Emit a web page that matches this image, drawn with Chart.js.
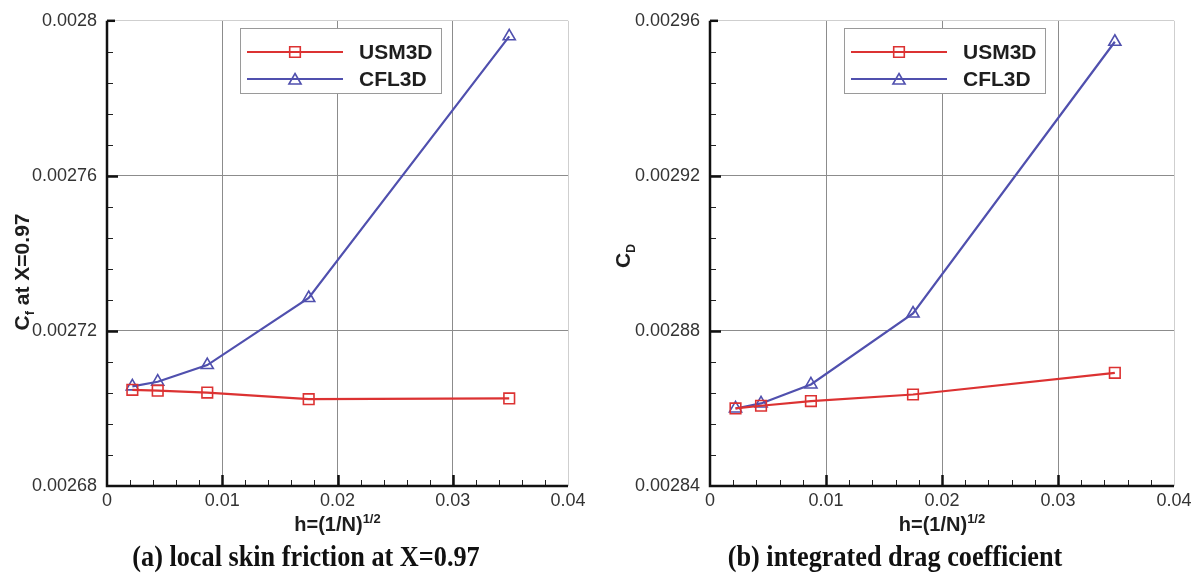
<!DOCTYPE html>
<html>
<head>
<meta charset="utf-8">
<script src="https://cdn.jsdelivr.net/npm/chart.js@4.4.1/dist/chart.umd.min.js"></script>
<style>
  html, body { margin: 0; padding: 0; background: #fff; }
  #wrap { position: relative; width: 1200px; height: 579px; overflow: hidden; }
  .panel { position: absolute; top: 0; width: 600px; height: 540px; }
  canvas { display: block; }
  .cap {
    position: absolute; top: 541px; width: 600px; text-align: center;
    font: bold 25px "Liberation Serif", "Times New Roman", serif; line-height: 30px; color: #111;
    transform: scale(1.05, 1.2); transform-origin: 50% 50%;
  }
</style>
</head>
<body>
<div id="wrap">
  <div class="panel" style="left:0"><canvas id="cfChart" width="600" height="540"></canvas></div>
  <div class="panel" style="left:600px"><canvas id="cdChart" width="600" height="540"></canvas></div>
  <div class="cap" style="left:6px">(a) local skin friction at X=0.97</div>
  <div class="cap" style="left:595px">(b) integrated drag coefficient</div>
</div>
<script>
// Grid spacing h = (1/N)^(1/2) for the five meshes
const hValues = [0.0022, 0.0044, 0.0087, 0.0175, 0.0349];

// Local skin friction at X = 0.97
const cfUSM3D = [0.0027048, 0.0027046, 0.0027041, 0.0027024, 0.0027026];
const cfCFL3D = [0.0027057, 0.0027069, 0.0027112, 0.0027285, 0.0027960];

// Integrated drag coefficient
const cdUSM3D = [0.0028600, 0.0028607, 0.0028619, 0.0028636, 0.0028692];
const cdCFL3D = [0.0028600, 0.0028613, 0.0028662, 0.0028845, 0.0029546];

// Axis ticks
const xTicks = [0, 0.01, 0.02, 0.03, 0.04];
const cfTicks = [0.00268, 0.00272, 0.00276, 0.0028];
const cdTicks = [0.00284, 0.00288, 0.00292, 0.00296];

const seriesNames = ['USM3D', 'CFL3D'];
const RED = '#dc3232';
const BLUE = '#5050ae';
const SANS = '"Liberation Sans", Arial, Helvetica, sans-serif';

function fmt(v) {
  if (Math.abs(v) < 1e-12) return '0';
  return String(Number(v.toFixed(6)));
}

// Draws a run of text pieces with individual sizes and vertical offsets, centred on x
function drawRich(ctx, parts, x, y) {
  let w = 0;
  parts.forEach(p => { ctx.font = 'bold ' + p.size + 'px ' + SANS; p.w = ctx.measureText(p.t).width; w += p.w; });
  let cx = x - w / 2;
  ctx.textAlign = 'left';
  ctx.textBaseline = 'alphabetic';
  parts.forEach(p => {
    ctx.font = 'bold ' + p.size + 'px ' + SANS;
    ctx.fillText(p.t, cx, y + (p.dy || 0));
    cx += p.w;
  });
}

// Legend box, axis lines with inward major/minor ticks, and axis titles
const decor = {
  id: 'decor',
  beforeDatasetsDraw(chart, args, o) {
    const { ctx, chartArea: a } = chart;
    ctx.save();
    const lx = a.left + o.legendDx, ly = 28, lw = 201, lh = 65;
    ctx.fillStyle = '#fff';
    ctx.fillRect(lx, ly, lw, lh);
    ctx.strokeStyle = '#9a9a9a';
    ctx.lineWidth = 1;
    ctx.strokeRect(lx + 0.5, ly + 0.5, lw, lh);
    chart.data.datasets.forEach((ds, i) => {
      const ry = ly + 24 + i * 27;
      ctx.strokeStyle = ds.borderColor;
      ctx.lineWidth = ds.borderWidth;
      ctx.beginPath(); ctx.moveTo(lx + 7, ry); ctx.lineTo(lx + 103, ry); ctx.stroke();
      ctx.fillStyle = 'rgba(255,255,255,0)';
      ctx.lineWidth = 1.6;
      Chart.helpers.drawPoint(ctx, {
        pointStyle: ds.pointStyle, radius: ds.pointRadius, rotation: 0, borderWidth: 1.6
      }, lx + 55, ry + (ds.pointStyle === 'triangle' ? 1.5 : 0));
      ctx.fillStyle = '#1e1e1e';
      ctx.font = 'bold 21px ' + SANS;
      ctx.textAlign = 'left';
      ctx.textBaseline = 'middle';
      ctx.fillText(ds.label, lx + 119, ry + 1);
    });
    ctx.restore();
  },
  afterDraw(chart, args, o) {
    const { ctx, chartArea: a, scales: { x, y } } = chart;
    const yt = o.yTicks;
    ctx.save();

    // minor ticks
    ctx.strokeStyle = '#222';
    ctx.lineWidth = 1;
    const minor = (ticks, scale, horiz) => {
      for (let i = 0; i < ticks.length - 1; i++) {
        const step = (ticks[i + 1] - ticks[i]) / 5;
        for (let k = 1; k < 5; k++) {
          const p = Math.round(scale.getPixelForValue(ticks[i] + k * step)) + 0.5;
          ctx.beginPath();
          if (horiz) { ctx.moveTo(p, a.bottom); ctx.lineTo(p, a.bottom - 6); }
          else { ctx.moveTo(a.left, p); ctx.lineTo(a.left + 6, p); }
          ctx.stroke();
        }
      }
    };
    minor(xTicks, x, true);
    minor(yt, y, false);

    // major ticks
    ctx.strokeStyle = '#111';
    ctx.lineWidth = 2.5;
    for (let i = 1; i < xTicks.length - 1; i++) {
      const p = Math.round(x.getPixelForValue(xTicks[i])) + 0.5;
      ctx.beginPath(); ctx.moveTo(p, a.bottom); ctx.lineTo(p, a.bottom - 11); ctx.stroke();
    }
    for (let i = 1; i < yt.length - 1; i++) {
      const p = Math.round(y.getPixelForValue(yt[i])) + 0.5;
      ctx.beginPath(); ctx.moveTo(a.left, p); ctx.lineTo(a.left + 11, p); ctx.stroke();
    }

    // left and bottom axis lines
    ctx.lineWidth = 2.5;
    ctx.beginPath();
    ctx.moveTo(a.left, a.top);
    ctx.lineTo(a.left, a.bottom);
    ctx.lineTo(a.right, a.bottom);
    ctx.stroke();
    ctx.beginPath(); ctx.moveTo(a.left, a.top); ctx.lineTo(a.left + 8, a.top); ctx.stroke();

    ctx.fillStyle = '#1e1e1e';
    // x-axis title with superscript
    drawRich(ctx, [
      { t: 'h=(1/N)', size: 20 },
      { t: '1/2', size: 13, dy: -8 }
    ], (a.left + a.right) / 2, 531);
    // y-axis title with subscript, rotated
    ctx.translate(o.yTitleX, o.yTitleY);
    ctx.rotate(-Math.PI / 2);
    drawRich(ctx, o.yTitleParts, 0, 7);
    ctx.restore();
  }
};

function makeChart(id, usm, cfl, yTicks, cfg) {
  const pts = arr => hValues.map((h, i) => ({ x: h, y: arr[i] }));
  const yMin = yTicks[0], yMax = yTicks[yTicks.length - 1];
  return new Chart(document.getElementById(id), {
    type: 'scatter',
    data: {
      datasets: [
        {
          label: seriesNames[0], data: pts(usm), showLine: true,
          borderColor: RED, backgroundColor: 'rgba(0,0,0,0)', borderWidth: 2.2,
          pointStyle: 'rect', pointRadius: 7.5, pointBorderWidth: 1.6,
          pointBorderColor: RED, pointBackgroundColor: 'rgba(0,0,0,0)'
        },
        {
          label: seriesNames[1], data: pts(cfl), showLine: true,
          borderColor: BLUE, backgroundColor: 'rgba(0,0,0,0)', borderWidth: 2.2,
          pointStyle: 'triangle', pointRadius: 7, pointBorderWidth: 1.6,
          pointBorderColor: BLUE, pointBackgroundColor: 'rgba(0,0,0,0)'
        }
      ]
    },
    options: {
      responsive: false,
      animation: false,
      events: [],
      layout: { padding: { left: 0, top: 15, right: cfg.padRight, bottom: 0 } },
      plugins: {
        legend: { display: false },
        tooltip: { enabled: false },
        decor: { yTicks: yTicks, legendDx: cfg.legendDx, yTitleX: cfg.yTitleX, yTitleY: cfg.yTitleY, yTitleParts: cfg.yTitleParts }
      },
      scales: {
        x: {
          type: 'linear', min: 0, max: 0.04,
          afterFit: s => { s.height = 54; },
          afterBuildTicks: s => { s.ticks = xTicks.map(v => ({ value: v })); },
          grid: {
            drawTicks: false, lineWidth: 1,
            color: c => (c.tick && c.tick.value === 0.04) ? '#cfcfcf' : '#8c8c8c'
          },
          border: { display: false },
          ticks: {
            padding: 4, color: '#333', maxRotation: 0,
            font: { family: SANS, size: 18 },
            callback: v => fmt(v)
          }
        },
        y: {
          type: 'linear', min: yMin, max: yMax,
          afterFit: s => { s.width = cfg.yWidth; },
          afterBuildTicks: s => { s.ticks = yTicks.map(v => ({ value: v })); },
          grid: {
            drawTicks: false, lineWidth: 1,
            color: c => (c.tick && Math.abs(c.tick.value - yMax) < 1e-9) ? '#cfcfcf' : '#8c8c8c'
          },
          border: { display: false },
          ticks: {
            padding: 10, color: '#333',
            font: { family: SANS, size: 18 },
            callback: v => fmt(v)
          }
        }
      }
    },
    plugins: [decor]
  });
}

makeChart('cfChart', cfUSM3D, cfCFL3D, cfTicks, {
  padRight: 32, yWidth: 107, legendDx: 133, yTitleX: 22, yTitleY: 272,
  yTitleParts: [
    { t: 'C', size: 21 },
    { t: 'f', size: 13, dy: 5 },
    { t: ' at X=0.97', size: 21 }
  ]
});

makeChart('cdChart', cdUSM3D, cdCFL3D, cdTicks, {
  padRight: 26, yWidth: 110, legendDx: 134, yTitleX: 23, yTitleY: 256,
  yTitleParts: [
    { t: 'C', size: 21 },
    { t: 'D', size: 12, dy: 5 }
  ]
});
</script>
</body>
</html>
